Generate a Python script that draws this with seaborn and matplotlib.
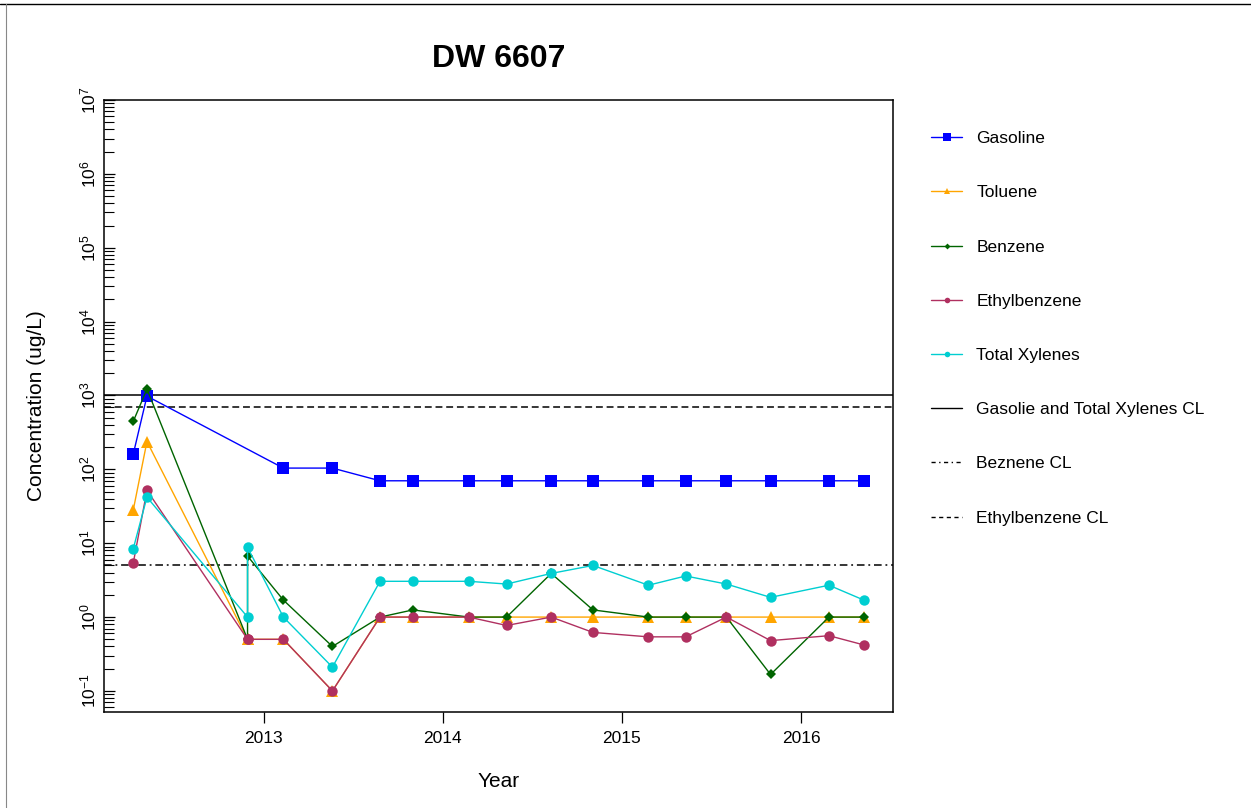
import numpy as np
import pandas as pd
import matplotlib
matplotlib.use("Agg")
import matplotlib.pyplot as plt
import matplotlib.dates as mdates
from matplotlib.lines import Line2D
from matplotlib.ticker import FixedLocator, LogLocator, NullFormatter, FuncFormatter
import seaborn as sns

# ---- sampling data (ug/L) ----
sample_dates = ["2012-04-10", "2012-05-08", "2012-11-29", "2012-11-29", "2013-02-10",
                "2013-05-21", "2013-08-26", "2013-11-01", "2014-02-23", "2014-05-11",
                "2014-08-10", "2014-11-03", "2015-02-24", "2015-05-11", "2015-08-02",
                "2015-10-31", "2016-02-27", "2016-05-08"]
gasoline_dates = ["2012-04-10", "2012-05-08", "2013-02-10", "2013-05-21", "2013-08-26",
                  "2013-11-01", "2014-02-23", "2014-05-11", "2014-08-10", "2014-11-03",
                  "2015-02-24", "2015-05-11", "2015-08-02", "2015-10-31", "2016-02-27",
                  "2016-05-08"]

gasoline = [160, 980, 104, 104, 70, 70, 70, 70, 70, 70, 70, 70, 70, 70, 70, 70]
toluene = [28, 238, 0.5, 0.5, 0.5, 0.1, 1, 1, 1, 1, 1, 1, 1, 1, 1, 1, 1, 1]
benzene = [445, 1220, 0.5, 6.7, 1.7, 0.4, 1.0, 1.25, 1.0, 1.0, 3.9, 1.25, 1.0, 1.0,
           1.0, 0.167, 1.0, 1.0]
ethylbenzene = [5.35, 52, 0.5, 0.5, 0.5, 0.1, 1.0, 1.0, 1.0, 0.77, 1.0, 0.62, 0.54,
                0.54, 1.0, 0.48, 0.56, 0.42]
total_xylenes = [8.4, 42, 1.0, 8.8, 1.0, 0.21, 3.05, 3.05, 3.05, 2.8, 3.9, 5.0, 2.7,
                 3.6, 2.8, 1.85, 2.7, 1.7]

# cleanup levels
gas_xyl_cl = 1000
benzene_cl = 5
ethylbenzene_cl = 700

year_ticks = [2013, 2014, 2015, 2016]
decades = list(range(-1, 8))

# ---- styling ----
sns.set_style("white")
plt.rcParams["font.family"] = ["Liberation Sans", "DejaVu Sans"]
plt.rcParams["mathtext.fontset"] = "custom"
plt.rcParams["mathtext.rm"] = "Liberation Sans"
plt.rcParams["mathtext.it"] = "Liberation Sans:italic"
plt.rcParams["mathtext.bf"] = "Liberation Sans:bold"
plt.rcParams["mathtext.default"] = "rm"
for key in ["text.color", "axes.labelcolor", "xtick.color", "ytick.color"]:
    plt.rcParams[key] = "black"

series = [
    ("Gasoline", gasoline_dates, gasoline, "#0000FF", "s", 8.5, 5.5),
    ("Toluene", sample_dates, toluene, "#FFA500", "^", 9.0, 4.5),
    ("Benzene", sample_dates, benzene, "#006400", "D", 5.5, 3.0),
    ("Ethylbenzene", sample_dates, ethylbenzene, "#B03060", "o", 7.5, 4.0),
    ("Total Xylenes", sample_dates, total_xylenes, "#00CED1", "o", 7.5, 4.0),
]

fig = plt.figure(figsize=(12.51, 8.08), dpi=100)
W, H = 1251, 808
ax = fig.add_axes([104 / W, 1 - 712 / H, (893 - 104) / W, (712 - 100) / H])

# cleanup-level reference lines
ax.axhline(gas_xyl_cl, color="black", lw=1.1, zorder=1.5)
ax.axhline(benzene_cl, color="black", lw=1.1, dashes=(5, 2.5, 1.2, 2.5), zorder=1.5)
ax.axhline(ethylbenzene_cl, color="black", lw=1.1, dashes=(4.5, 2.5), zorder=1.5)

for name, dates, vals, color, marker, ms, _ in series:
    df = pd.DataFrame({"date": pd.to_datetime(dates), "conc": vals})
    sns.lineplot(data=df, x="date", y="conc", ax=ax, estimator=None, sort=False,
                 color=color, marker=marker, markersize=ms, markeredgewidth=0,
                 linewidth=1.0, zorder=2)

ax.set_yscale("log")
ax.set_ylim(10 ** -1.285, 1e7)
ax.yaxis.set_major_locator(FixedLocator([10.0 ** d for d in decades]))
ax.yaxis.set_major_formatter(FuncFormatter(lambda v, p: r"$10^{%d}$" % round(np.log10(v))))
ax.yaxis.set_minor_locator(LogLocator(base=10, subs=np.arange(2, 10), numticks=50))
ax.yaxis.set_minor_formatter(NullFormatter())

all_dates = pd.to_datetime(sample_dates)
span = all_dates.max() - all_dates.min()
ax.set_xlim(all_dates.min() - 0.04 * span, all_dates.max() + 0.04 * span)
ax.set_xticks([pd.Timestamp(f"{y}-01-01") for y in year_ticks])
ax.xaxis.set_major_formatter(mdates.DateFormatter("%Y"))
ax.xaxis.set_minor_locator(FixedLocator([]))

ax.tick_params(axis="y", which="major", direction="in", length=8, width=0.9,
               labelsize=12.5, pad=4, left=True, right=False)
ax.tick_params(axis="y", which="minor", direction="in", length=7, width=0.8,
               left=True, right=False)
for lab in ax.get_yticklabels():
    lab.set_rotation(90)
    lab.set_va("center")
ax.tick_params(axis="x", which="major", direction="out", length=8, width=0.9,
               labelsize=12.5, pad=6, bottom=True, top=False)

for sp in ax.spines.values():
    sp.set_visible(True)
    sp.set_color("black")
    sp.set_linewidth(1.1)

ax.set_xlabel("Year", fontsize=15)
ax.xaxis.set_label_coords(0.5, (712 - 786.7) / 612)
ax.xaxis.label.set_va("baseline")
ax.set_ylabel("Concentration (ug/L)", fontsize=15, va="center")
ax.yaxis.set_label_coords((36 - 104) / 789, 0.5)
ax.set_title("DW 6607", fontsize=23, fontweight="bold", y=(712 - 67) / 612, pad=0)

# legend
handles = []
labels = []
for name, dates, vals, color, marker, ms, lms in series:
    handles.append(Line2D([], [], color=color, lw=1.0, marker=marker, markersize=lms,
                          markeredgewidth=0))
    labels.append(name)
handles.append(Line2D([], [], color="black", lw=1.0))
labels.append("Gasolie and Total Xylenes CL")
handles.append(Line2D([], [], color="black", lw=1.0, dashes=(3, 2.5, 1, 2.5)))
labels.append("Beznene CL")
handles.append(Line2D([], [], color="black", lw=1.0, dashes=(3, 2.5)))
labels.append("Ethylbenzene CL")
fig.legend(handles, labels, loc="upper left", bbox_to_anchor=(931 / W, 1 - 131 / H),
           frameon=False, fontsize=12.5, handlelength=1.8, handletextpad=0.8,
           labelspacing=2.25, borderpad=0, borderaxespad=0)

# page frame
fig.add_artist(Line2D([0, 1], [1 - 4 / H, 1 - 4 / H], transform=fig.transFigure,
                      color="black", lw=1.0))
fig.add_artist(Line2D([6 / W, 6 / W], [0, 1 - 4 / H], transform=fig.transFigure,
                      color="#888888", lw=0.8))

fig.savefig("out.png", dpi=100)
